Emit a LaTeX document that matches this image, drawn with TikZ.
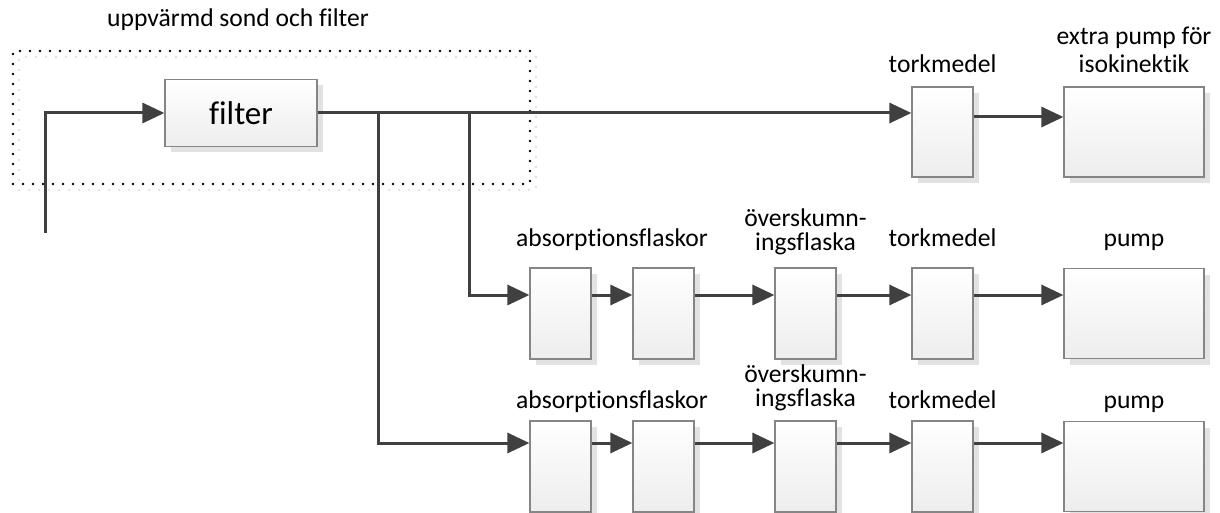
\documentclass[tikz,border=0pt]{standalone}
\usepackage{fontspec}
\setmainfont{Carlito}[Ligatures=NoCommon]
\usetikzlibrary{arrows.meta,shadows}
\definecolor{linegray}{HTML}{404040}
\definecolor{boxline}{HTML}{858585}
\definecolor{boxshade}{HTML}{EDEDED}
\definecolor{shadowgray}{HTML}{E2E2E2}

\begin{document}
\begin{tikzpicture}[x=0.5pt,y=-0.5pt,
  box/.style={draw=boxline,line width=0.6pt,top color=white,bottom color=boxshade,
    drop shadow={shadow xshift=3pt,shadow yshift=-3pt,fill=shadowgray,opacity=1}},
  narrow/.style={box,minimum width=30.5pt,minimum height=45.5pt},
  wide/.style={box,minimum width=70pt,minimum height=45pt},
  heated/.style={line width=1.4pt,line cap=round,dash pattern=on 0pt off 5pt,
    preaction={draw=shadowgray,transform canvas={shift={(3pt,-3pt)}}},draw=black},
  flow/.style={draw=linegray,line width=1.5pt,-{Triangle[length=11pt,width=10pt]}},
  pipe/.style={draw=linegray,line width=1.5pt},
  lbl/.style={font=\fontsize{12.8}{12}\selectfont,anchor=base,align=center,inner sep=0pt}]
\useasboundingbox (0,0) rectangle (1220,513);

% heated probe and filter
\node[heated,minimum width=258.5pt,minimum height=66.5pt,inner sep=0pt] (probe) at (271.5,117.5) {};
\node[lbl] (probetitle) at (238,27) {uppvärmd sond och filter};
\node[box,minimum width=76pt,minimum height=33.5pt,font=\fontsize{16.5}{18}\selectfont] (filter) at (241,113) {filter};
\coordinate (inlet) at (45,233);
\draw[flow] (inlet) |- (filter.west);

% isokinetic line
\node[box,minimum width=30.5pt,minimum height=45pt] (tork0) at (942.5,132) {};
\node[wide] (xpump) at (1134,132) {};
\node[lbl] (torkl0) at (942.5,73) {torkmedel};
\node[lbl,font=\fontsize{12.8}{14}\selectfont] (xpumpl) at (1134,73) {extra pump för\\isokinektik};
\coordinate (in0) at (0,117);
\draw[flow] (filter.east) -- (tork0.west |- filter.east);
\draw[flow] (tork0.east |- in0) -- (xpump.west |- in0);

% two absorption lines
\foreach \r/\yc/\ya/\yl/\ys in {b/313.5/295/247/250,c/466.5/443/408/406}{
  \coordinate (in\r) at (0,\ya);
  \node[narrow] (a1\r) at (560.5,\yc) {};
  \node[narrow] (a2\r) at (663.5,\yc) {};
  \node[narrow] (sk\r) at (805.5,\yc) {};
  \node[narrow] (tk\r) at (942.5,\yc) {};
  \node[wide] (pu\r) at (1134,\yc) {};
  \node[lbl] (absl\r) at (612,\yl) {absorptionsflaskor};
  \node[lbl] (skl\r) at (805.5,\ys) {överskumn-\\ingsflaska};
  \node[lbl] (tkl\r) at (942.5,\yl) {torkmedel};
  \node[lbl] (pul\r) at (1134,\yl) {pump};
  \foreach \p/\q in {a1/a2,a2/sk,sk/tk,tk/pu}
    \draw[flow] (\p\r.east |- in\r) -- (\q\r.west |- in\r);
}
\coordinate (j1) at (378,113);
\coordinate (j2) at (469,113);
\draw[flow] (j2) |- (a1b.west |- inb);
\draw[flow] (j1) |- (a1c.west |- inc);

\end{tikzpicture}
\end{document}
